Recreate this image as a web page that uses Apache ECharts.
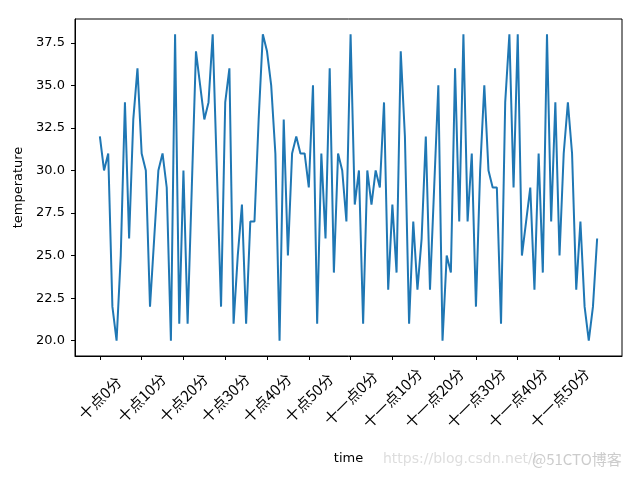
<!DOCTYPE html>
<html>
<head>
<meta charset="utf-8">
<script src="https://cdn.jsdelivr.net/npm/echarts@6/dist/echarts.min.js"></script>
<style>html,body{margin:0;padding:0;background:#fff;}#c{width:640px;height:480px;}</style>
</head>
<body>
<div id="c"></div>
<script>
var temperatures = [32,30,31,22,20,25,34,26,33,36,31,30,22,26,30,31,29,20,38,21,
30,21,29,37,35,33,34,38,30,22,34,36,21,25,28,21,27,27,33,38,
37,35,31,20,33,25,31,32,31,31,29,35,21,31,26,36,24,31,30,27,
38,28,30,21,30,28,30,29,34,23,28,24,37,32,21,27,23,26,32,23,
29,35,20,25,24,36,27,38,27,31,22,30,35,30,29,29,21,34,38,29,
38,25,27,29,23,31,24,38,27,34,25,31,34,31,23,27,22,20,22,26];
var tickPositions = [0,10,20,30,40,50,60,70,80,90,100,110];
var tickLabels = ["十点0分","十点10分","十点20分","十点30分","十点40分","十点50分",
"十一点0分","十一点10分","十一点20分","十一点30分","十一点40分","十一点50分"];
var yTicks = [20,22.5,25,27.5,30,32.5,35,37.5];

var seriesData = temperatures.map(function(v,i){return [i,v];});
var chart = echarts.init(document.getElementById('c'), null, {renderer:'canvas'});
chart.setOption({
  animation:false,
  backgroundColor:'#fff',
  grid:{left:75,right:18,top:19,bottom:124,show:true,borderColor:'#000',borderWidth:1,backgroundColor:'transparent'},
  xAxis:{
    type:'value',min:-5.95,max:124.95,
    name:'time',nameLocation:'middle',nameGap:96,
    nameTextStyle:{color:'#000',fontSize:13,fontFamily:'DejaVu Sans'},
    axisLine:{show:true,onZero:false,lineStyle:{color:'#000',width:1}},
    axisTick:{show:true,length:4,customValues:tickPositions,lineStyle:{color:'#000'}},
    splitLine:{show:false},
    axisLabel:{
      customValues:tickPositions,rotate:45,align:'center',verticalAlign:'middle',margin:42,
      color:'#000',fontSize:15,fontFamily:'Noto Sans CJK SC',
      formatter:function(v){var k=tickPositions.indexOf(Math.round(v));return k>=0?tickLabels[k]:'';}
    }
  },
  yAxis:{
    type:'value',min:19.1,max:38.9,
    name:'temperature',nameLocation:'middle',nameGap:48,nameRotate:90,
    nameTextStyle:{color:'#000',fontSize:13,fontFamily:'DejaVu Sans'},
    axisLine:{show:true,onZero:false,lineStyle:{color:'#000',width:1}},
    axisTick:{show:true,length:4,customValues:yTicks,lineStyle:{color:'#000'}},
    splitLine:{show:false},
    axisLabel:{customValues:yTicks,color:'#000',fontSize:13,fontFamily:'DejaVu Sans',margin:10,
      formatter:function(v){return v.toFixed(1);}}
  },
  series:[{
    type:'line',data:seriesData,showSymbol:false,symbol:'none',
    lineStyle:{color:'#1f77b4',width:2},
    itemStyle:{color:'#1f77b4'}
  }],
  graphic:[
    {type:'text',left:383,top:452,style:{text:'https://blog.csdn.net/l',fill:'rgba(180,180,180,0.45)',fontSize:14,fontFamily:'DejaVu Sans'}},
    {type:'text',left:532,top:452,style:{text:'@51CTO博客',fill:'rgba(170,170,170,0.6)',fontSize:15,fontFamily:'Noto Sans CJK SC'}}
  ]
});
</script>
</body>
</html>
